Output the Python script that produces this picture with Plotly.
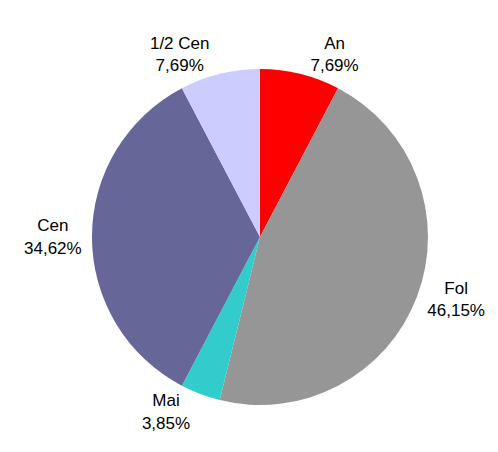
import plotly.graph_objects as go

labels = ["An", "Fol", "Mai", "Cen", "1/2 Cen"]
values = [2, 12, 1, 9, 2]
colors = ["#FF0000", "#969696", "#33CCCC", "#666699", "#CCCCFF"]

fig = go.Figure(go.Pie(
    labels=labels, values=values, sort=False, direction="clockwise", rotation=0,
    marker=dict(colors=colors, line=dict(width=0)),
    textposition="outside", texttemplate="%{label}<br>%{percent:.2%}",
    textfont=dict(family="Liberation Sans, Arial, sans-serif", size=17, color="#000000"),
    outsidetextfont=dict(family="Liberation Sans, Arial, sans-serif", size=17, color="#000000"),
    domain=dict(x=[0.1686, 0.8433], y=[0.1217, 0.8651]),
    showlegend=False, hoverinfo="label+percent",
))
fig.update_layout(width=498, height=452, margin=dict(l=0, r=0, t=0, b=0),
                  separators=",.", paper_bgcolor="white", plot_bgcolor="white")
fig.write_html("out.html")
